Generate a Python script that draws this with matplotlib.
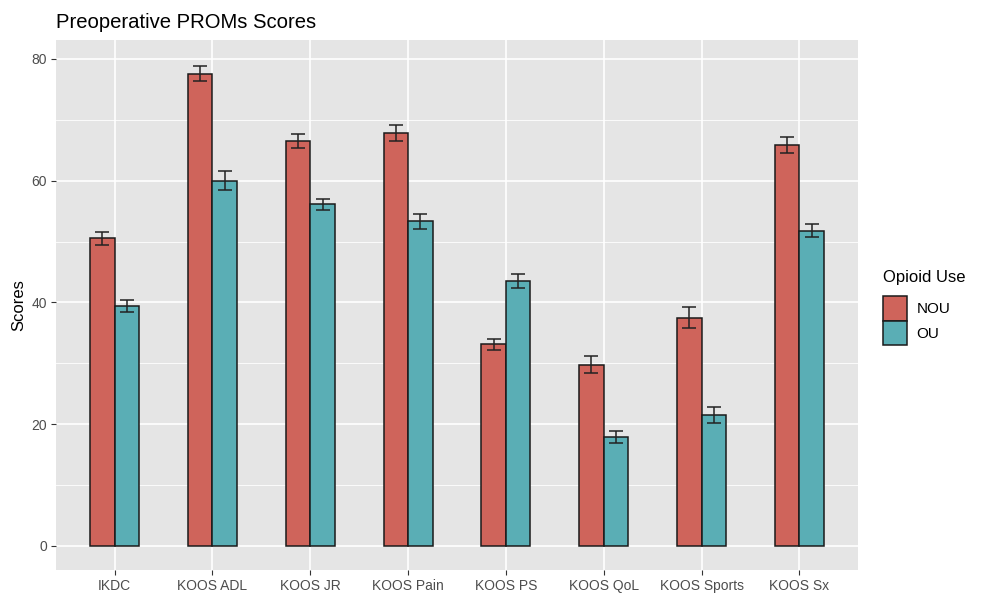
import numpy as np
import matplotlib.pyplot as plt
from matplotlib.ticker import MultipleLocator

plt.rcParams['font.family'] = ['Liberation Sans', 'DejaVu Sans']

categories = ['IKDC', 'KOOS ADL', 'KOOS JR', 'KOOS Pain', 'KOOS PS',
              'KOOS QoL', 'KOOS Sports', 'KOOS Sx']
nou_mean = [50.5, 77.6, 66.5, 67.8, 33.1, 29.8, 37.5, 65.8]
nou_se = [1.1, 1.25, 1.2, 1.3, 0.95, 1.35, 1.7, 1.3]
ou_mean = [39.4, 60.0, 56.1, 53.3, 43.5, 17.9, 21.5, 51.8]
ou_se = [1.05, 1.6, 0.9, 1.3, 1.1, 1.0, 1.35, 1.05]

c_nou = '#CF645B'
c_ou = '#5AAEB5'

fig = plt.figure(figsize=(9.81, 5.93), dpi=100)
ax = fig.add_axes([0.0571, 0.0388, 0.8175, 0.8937])
ax.set_facecolor('#E5E5E5')

x = np.arange(1, len(categories) + 1)
w = 0.25
b1 = ax.bar(x - w / 2, nou_mean, width=w, color=c_nou, edgecolor='#1a1a1a',
            linewidth=1.1, label='NOU', zorder=3)
b2 = ax.bar(x + w / 2, ou_mean, width=w, color=c_ou, edgecolor='#1a1a1a',
            linewidth=1.1, label='OU', zorder=3)
ax.errorbar(x - w / 2, nou_mean, yerr=nou_se, fmt='none', ecolor='#222222',
            elinewidth=1.1, capsize=5, capthick=1.1, zorder=4)
ax.errorbar(x + w / 2, ou_mean, yerr=ou_se, fmt='none', ecolor='#222222',
            elinewidth=1.1, capsize=5, capthick=1.1, zorder=4)

ax.set_xlim(0.4, 8.6)
ax.set_ylim(-3.95, 83.1)
ax.set_xticks(x)
ax.set_xticklabels(categories)
ax.yaxis.set_major_locator(MultipleLocator(20))
ax.yaxis.set_minor_locator(MultipleLocator(10))
ax.grid(which='major', color='white', linewidth=1.2, zorder=0)
ax.grid(which='minor', axis='y', color='white', linewidth=0.6, zorder=0)
ax.set_axisbelow(True)
for s in ax.spines.values():
    s.set_visible(False)
ax.tick_params(which='major', length=3.5, color='#333333', labelsize=10,
               labelcolor='#4D4D4D', pad=3)
ax.tick_params(which='minor', length=0)
ax.set_ylabel('Scores', fontsize=12, color='black', labelpad=4)

fig.text(0.057, 0.962, 'Preoperative PROMs Scores', fontsize=14.6,
         ha='left', va='center', color='black')

leg = fig.legend(handles=[b1, b2], labels=['NOU', 'OU'], title='Opioid Use',
                 loc='upper left', bbox_to_anchor=(0.9, 0.545),
                 frameon=False, fontsize=11, title_fontsize=12,
                 handlelength=1.55, handleheight=2.1, labelspacing=0.0,
                 handletextpad=0.65, borderaxespad=0, borderpad=0)
leg._legend_box.align = 'left'
leg._legend_box.sep = 8

fig.savefig('out.png', dpi=100)
